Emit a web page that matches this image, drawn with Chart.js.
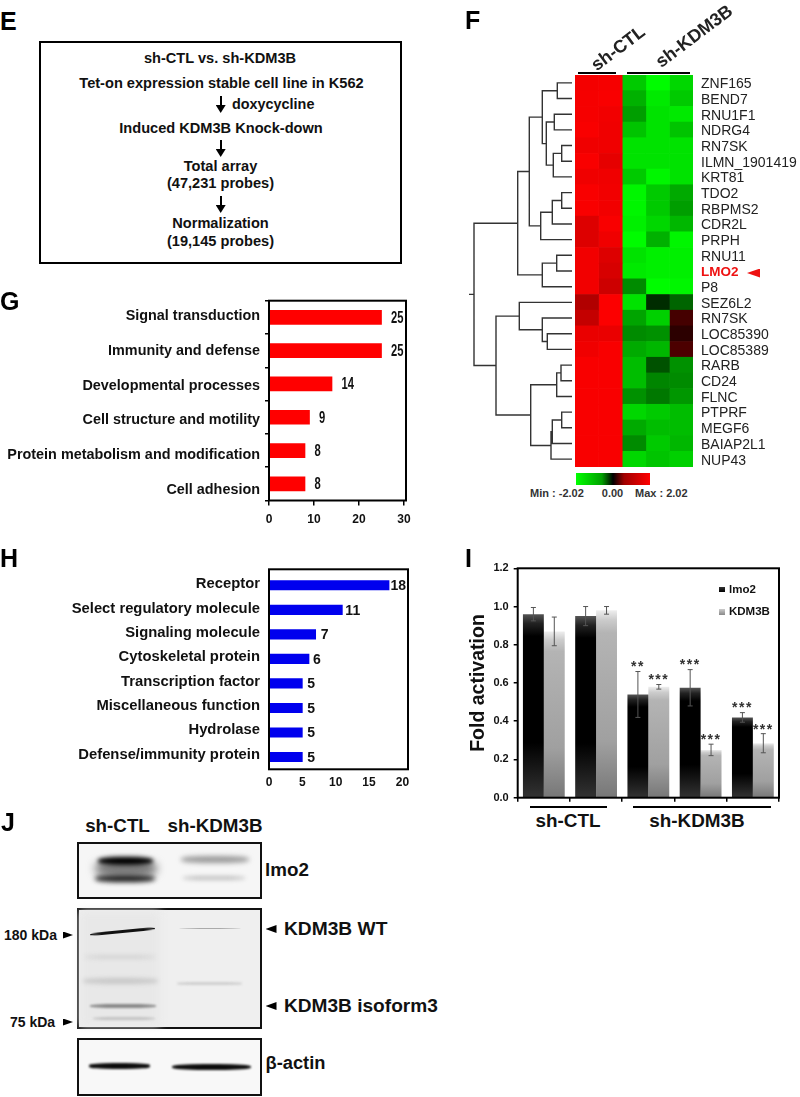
<!DOCTYPE html>
<html>
<head>
<meta charset="utf-8">
<script src="https://cdn.jsdelivr.net/npm/chart.js@4"></script>
<style>
html, body { margin:0; padding:0; background:#fff; }
#page { position:relative; width:800px; height:1097px; overflow:hidden; font-family:"Liberation Sans",Arial,sans-serif; color:#111; }
#page canvas { position:absolute; }
.t { position:absolute; white-space:nowrap; line-height:1; }
.a { position:absolute; }
</style>
</head>
<body>
<div id="page"></div>
<script>
// panel G
var gLabels = ["Signal transduction","Immunity and defense","Developmental processes","Cell structure and motility","Protein metabolism and modification","Cell adhesion"];
var gValues = [25,25,14,9,8,8];
var gTicks = [0,10,20,30];

// panel H
var hLabels = ["Receptor","Select regulatory molecule","Signaling molecule","Cytoskeletal protein","Transcription factor","Miscellaneous function","Hydrolase","Defense/immunity protein"];
var hValues = [18,11,7,6,5,5,5,5];
var hTicks = [0,5,10,15,20];

// panel I
var iGroups = ["sh-CTL 1","sh-CTL 2","sh-KDM3B 1","sh-KDM3B 2","sh-KDM3B 3"];
var iLmo2 = [0.96,0.95,0.54,0.575,0.42];
var iKdm3b = [0.87,0.98,0.58,0.25,0.285];
var iLmo2Err = [0.035,0.05,0.12,0.095,0.025];
var iKdm3bErr = [0.075,0.02,0.012,0.03,0.05];
var iLmo2Sig = ["","","**","***","***"];
var iKdm3bSig = ["","","***","***","***"];
var iTicks = [0,0.2,0.4,0.6,0.8,1.0,1.2];

// panel F
var genes = ["ZNF165","BEND7","RNU1F1","NDRG4","RN7SK","ILMN_1901419","KRT81","TDO2","RBPMS2","CDR2L","PRPH","RNU11","LMO2","P8","SEZ6L2","RN7SK","LOC85390","LOC85389","RARB","CD24","FLNC","PTPRF","MEGF6","BAIAP2L1","NUP43"];
var heatRows = [
  [1.93,1.95,-1.6,-2.0,-1.7],
  [1.95,1.97,-1.4,-1.85,-1.6],
  [1.95,1.92,-1.25,-1.8,-1.85],
  [1.97,1.9,-1.55,-1.8,-1.55],
  [1.9,1.9,-1.8,-1.8,-1.8],
  [1.97,1.82,-1.8,-1.8,-1.8],
  [1.9,1.9,-1.6,-1.95,-1.8],
  [1.97,1.92,-1.95,-1.6,-1.35],
  [1.97,1.92,-1.95,-1.6,-1.25],
  [1.75,1.97,-1.9,-1.7,-1.45],
  [1.75,1.9,-2.0,-1.4,-1.95],
  [1.92,1.75,-1.8,-1.9,-1.9],
  [1.92,1.7,-1.85,-1.9,-1.9],
  [1.92,1.62,-1.1,-2.0,-1.95],
  [1.4,2.0,-1.8,-0.35,-0.8],
  [1.55,2.0,-1.3,-1.65,0.55],
  [1.85,1.85,-1.1,-1.15,0.35],
  [1.9,1.97,-1.35,-1.45,0.6],
  [1.97,1.97,-1.5,-0.65,-1.15],
  [1.97,1.97,-1.5,-1.05,-1.1],
  [1.97,1.97,-1.15,-0.95,-1.2],
  [1.97,1.97,-1.7,-1.6,-1.5],
  [1.97,1.97,-1.35,-1.5,-1.5],
  [1.97,1.97,-1.1,-1.6,-1.45],
  [1.97,1.97,-1.7,-1.55,-1.65]
];
// dendrogram joins: [left, right, height], a number is a gene row, "n3" is join 3
var dendro = [
  [0,1,14.7],[2,3,17.7],[4,5,10.3],["n2",6,18.7],["n1","n3",25.7],["n0","n4",29.7],
  [7,8,10.3],["n6",9,19.7],["n7",10,31.3],["n5","n8",42.7],
  [11,12,15.3],["n10",13,29.7],["n9","n11",54.3],
  [16,17,24.7],[15,"n13",29.7],[14,"n14",52.7],
  [18,19,11],["n16",20,15.3],[21,22,10.3],["n18",23,19.7],["n19",24,21],["n17","n20",41.3],
  ["n15","n21",76],["n12","n22",98]
];

var FONT = '"Liberation Sans",Arial,sans-serif';
var NARROW = '"Liberation Sans Narrow","Liberation Sans",Arial,sans-serif';
Chart.defaults.font.family = FONT;
Chart.defaults.animation = false;
Chart.defaults.responsive = false;
Chart.defaults.plugins.legend.display = false;
Chart.defaults.plugins.tooltip.enabled = false;

var page = document.getElementById("page");

function canvasAt(left, top, w, h) {
  var c = document.createElement("canvas");
  c.width = w; c.height = h;
  c.style.left = left + "px"; c.style.top = top + "px";
  page.appendChild(c);
  return c.getContext("2d");
}

function put(text, x, y, size, opt) {
  opt = opt || {};
  var d = document.createElement("div");
  d.className = "t";
  d.textContent = text;
  d.style.left = x + "px"; d.style.top = y + "px";
  d.style.fontSize = size + "px";
  d.style.fontWeight = opt.weight || "bold";
  if (opt.color) d.style.color = opt.color;
  var ax = opt.align == "left" ? "0" : opt.align == "right" ? "-100%" : "-50%";
  d.style.transform = "translate(" + ax + ",-50%)" + (opt.rot ? " rotate(" + opt.rot + "deg)" : "");
  page.appendChild(d);
}

function box(x, y, w, h, css) {
  var d = document.createElement("div");
  d.className = "a";
  d.style.left = x + "px"; d.style.top = y + "px";
  d.style.width = w + "px"; d.style.height = h + "px";
  d.style.cssText += css || "background:#000";
  page.appendChild(d);
  return d;
}

function tri(x, y, w, h, dir, color) {
  var poly = dir == "left" ? "100% 0,0 50%,100% 100%" : dir == "right" ? "0 0,100% 50%,0 100%" : "0 0,100% 0,50% 100%";
  box(x, y, w, h, "background:" + (color || "#000") + ";clip-path:polygon(" + poly + ")");
}

function arrowDown(x, y1, y2) {
  box(x - 1, y1, 2, y2 - y1 - 6);
  tri(x - 5, y2 - 8, 10, 8, "down");
}

// labels must not push the plot area about
function fixSize(s, w, h) {
  if (w !== null) s.width = w;
  if (h !== null) s.height = h;
  s.paddingTop = s.paddingBottom = s.paddingLeft = s.paddingRight = 0;
}

// frame round the plot area
var framePlugin = {
  id: "frame",
  afterDraw: function (chart, args, o) {
    var a = chart.chartArea, c = chart.ctx, t = o.inset || 0;
    c.save();
    c.strokeStyle = "#000";
    c.lineWidth = o.width || 2;
    c.strokeRect(a.left, a.top - t, a.right - a.left, a.bottom - a.top + t);
    c.restore();
  }
};

var valuePlugin = {
  id: "values",
  afterDatasetsDraw: function (chart, args, o) {
    var c = chart.ctx;
    chart.getDatasetMeta(0).data.forEach(function (el, i) {
      c.save();
      c.translate(el.x + o.dx[Math.min(i, o.dx.length - 1)], el.y + o.dy);
      c.scale(o.sx || 1, 1);
      c.font = o.font;
      c.fillStyle = "#111";
      c.textBaseline = "middle";
      c.fillText(chart.data.datasets[0].data[i], 0, 0);
      c.restore();
    });
  }
};

// horizontal bars, the category names sit on their own axis because they
// are spaced a little differently from the bars in the original
function hbar(g) {
  var a = g.area, ctx = canvasAt(g.canvas[0], g.canvas[1], g.canvas[2], g.canvas[3]);
  new Chart(ctx, {
    type: "bar",
    data: { labels: g.labels, datasets: [{ data: g.values, backgroundColor: g.color, barThickness: g.bar }] },
    plugins: [framePlugin, valuePlugin],
    options: {
      indexAxis: "y",
      layout: { padding: { top: a[1] - g.canvas[1], right: g.canvas[0] + g.canvas[2] - a[2], bottom: 0, left: 0 } },
      plugins: { frame: { inset: g.inset || 0 }, values: g.valueOpts },
      scales: {
        x: {
          min: 0, max: g.max,
          afterFit: function (s) { fixSize(s, null, g.canvas[1] + g.canvas[3] - a[3]); },
          afterBuildTicks: function (s) { s.ticks = g.ticks.map(function (v) { return { value: v }; }); },
          border: { display: false },
          grid: { drawOnChartArea: false, tickLength: g.xTick, color: "#000", lineWidth: 1.5 },
          ticks: { font: g.xFont, color: "#111", padding: g.xPad, maxRotation: 0, autoSkip: false }
        },
        y: {
          weight: 0,
          afterFit: function (s) { fixSize(s, 4, null); },
          border: { display: false },
          grid: { drawOnChartArea: false, tickLength: g.yTick, color: "#000", lineWidth: 1.5 },
          ticks: { callback: function () { return ""; }, padding: 0 }
        },
        names: {
          type: "linear", position: "left", reverse: true, weight: 1, display: true, offset: false,
          min: g.nameRange[0], max: g.nameRange[1],
          afterFit: function (s) { fixSize(s, a[0] - g.canvas[0] - 4, null); },
          afterBuildTicks: function (s) { s.ticks = g.labels.map(function (l, i) { return { value: i }; }); },
          border: { display: false },
          grid: { display: false, drawTicks: false },
          ticks: {
            autoSkip: false, padding: 5, color: "#111", font: g.nameFont,
            callback: function (v) { return g.labels[v]; }
          }
        }
      }
    }
  });
}

hbar({
  canvas: [0, 295, 415, 235], area: [269, 300.7, 406, 500.5],
  labels: gLabels, values: gValues, color: "#ff0000", bar: 14, max: 30.44, ticks: gTicks,
  nameRange: [-0.44, 5.30], nameFont: { size: 14.4, weight: "bold" },
  xFont: { size: 12, weight: "bold", family: NARROW }, xTick: 5, xPad: 7, yTick: 4,
  valueOpts: { dx: [9.5], dy: 1, sx: 0.7, font: "bold 16px " + FONT }
});

hbar({
  canvas: [0, 560, 415, 235], area: [269, 573, 408, 769.3], inset: 3.7,
  labels: hLabels, values: hValues, color: "#0000ee", bar: 9.5, max: 20.84, ticks: hTicks,
  nameRange: [-0.465, 7.61], nameFont: { size: 14.8, weight: "bold" },
  xFont: { size: 12, weight: "bold" }, xTick: 0, xPad: 6, yTick: 0,
  valueOpts: { dx: [1.5, 3, 5, 4, 5], dy: 1, font: "bold 14px " + FONT }
});

// panel I
function barFill(stops) {
  return function (c) {
    var chart = c.chart;
    if (!chart.chartArea || c.parsed === undefined) return stops[0][1];
    var y = chart.scales.y;
    var g = chart.ctx.createLinearGradient(0, y.getPixelForValue(c.raw), 0, y.getPixelForValue(0));
    stops.forEach(function (s) { g.addColorStop(s[0], s[1]); });
    return g;
  };
}

var errorPlugin = {
  id: "errs",
  afterDatasetsDraw: function (chart) {
    var c = chart.ctx, y = chart.scales.y;
    [[iLmo2, iLmo2Err, iLmo2Sig], [iKdm3b, iKdm3bErr, iKdm3bSig]].forEach(function (s, k) {
      chart.getDatasetMeta(k).data.forEach(function (el, i) {
        var top = y.getPixelForValue(s[0][i] + s[1][i]), bot = y.getPixelForValue(s[0][i] - s[1][i]);
        c.save();
        c.strokeStyle = "#555";
        c.lineWidth = 1;
        c.beginPath();
        c.moveTo(el.x, top); c.lineTo(el.x, bot);
        c.moveTo(el.x - 2.5, top); c.lineTo(el.x + 2.5, top);
        c.moveTo(el.x - 2.5, bot); c.lineTo(el.x + 2.5, bot);
        c.stroke();
        if (s[2][i]) {
          c.fillStyle = "#333";
          c.font = "bold 14px " + FONT;
          c.letterSpacing = "1.5px";
          c.textAlign = "center";
          c.textBaseline = "middle";
          c.fillText(s[2][i], el.x, top - 4);
        }
        c.restore();
      });
    });
  }
};

new Chart(canvasAt(450, 555, 345, 250), {
  type: "bar",
  data: {
    labels: iGroups,
    datasets: [
      { label: "lmo2", data: iLmo2, barPercentage: 1, categoryPercentage: 0.8,
        backgroundColor: barFill([[0, "#555"], [0.05, "#222"], [0.12, "#000"], [0.7, "#000"], [1, "#333"]]) },
      { label: "KDM3B", data: iKdm3b, barPercentage: 1, categoryPercentage: 0.8,
        backgroundColor: barFill([[0, "#eee"], [0.05, "#ccc"], [0.12, "#b4b4b4"], [0.7, "#a0a0a0"], [1, "#777"]]) }
    ]
  },
  plugins: [framePlugin, errorPlugin],
  options: {
    layout: { padding: { top: 13.3, right: 16, left: 0, bottom: 0 } },
    plugins: { frame: { width: 2 } },
    scales: {
      x: {
        afterFit: function (s) { fixSize(s, null, 7.3); },
        border: { display: false },
        grid: { drawOnChartArea: false, tickLength: 4, color: "#000", lineWidth: 1.5 },
        ticks: { callback: function () { return ""; }, padding: 0 }
      },
      y: {
        min: 0, max: 1.2,
        afterFit: function (s) { fixSize(s, 67.7, null); },
        afterBuildTicks: function (s) { s.ticks = iTicks.map(function (v) { return { value: v }; }); },
        border: { display: false },
        grid: { drawOnChartArea: false, tickLength: 4, color: "#000", lineWidth: 1.5 },
        ticks: { font: { size: 11, weight: "bold" }, color: "#111", padding: 5, callback: function (v) { return v.toFixed(1); } },
        title: { display: true, text: "Fold activation", font: { size: 19.5, weight: "bold" }, color: "#111", padding: { top: 17, bottom: 0 } }
      }
    }
  }
});

// panel F heat map, one stacked bar per gene with cells one unit wide
function heatColor(v) {
  var k = Math.min(1, Math.abs(v) / 2.02), m = Math.round(255 * k);
  return v >= 0 ? "rgb(" + m + ",0,0)" : "rgb(0," + m + ",0)";
}
var unitCells = genes.map(function () { return 1; });
new Chart(canvasAt(575, 70, 225, 402), {
  type: "bar",
  data: {
    labels: genes,
    datasets: heatRows[0].map(function (x, col) {
      return {
        data: unitCells, barPercentage: 1, categoryPercentage: 1,
        backgroundColor: function (c) { return heatColor(heatRows[c.dataIndex][col]); }
      };
    })
  },
  options: {
    indexAxis: "y",
    layout: { padding: { top: 5, bottom: 5 } },
    scales: {
      x: { display: false, stacked: true, min: 0, max: 5 },
      y: {
        position: "right", stacked: true,
        afterFit: function (s) { fixSize(s, 107, null); },
        border: { display: false },
        grid: { display: false, drawTicks: false },
        ticks: {
          autoSkip: false, padding: 8, labelOffset: 1.5,
          color: function (c) { return genes[c.index] == "LMO2" ? "#ee1111" : "#222"; },
          font: function (c) { return { size: genes[c.index] == "LMO2" ? 13.5 : 14, weight: genes[c.index] == "LMO2" ? "bold" : "normal" }; }
        }
      }
    }
  }
});

// dendrogram on the left of the heat map
function dendroPoints() {
  var pts = [], ys = [];
  function pos(n) {
    if (typeof n == "number") return { y: n, h: 0 };
    var i = +n.slice(1);
    return { y: ys[i], h: dendro[i][2] };
  }
  dendro.forEach(function (d) {
    var a = pos(d[0]), b = pos(d[1]);
    ys.push((a.y + b.y) / 2);
    pts.push({ x: a.h, y: a.y }, { x: d[2], y: a.y }, { x: d[2], y: b.y }, { x: b.h, y: b.y }, { x: null, y: null });
  });
  var root = dendro[dendro.length - 1][2];
  pts.push({ x: root, y: ys[ys.length - 1] }, { x: root + 5, y: ys[ys.length - 1] });
  return pts;
}
new Chart(canvasAt(465, 75, 107, 392), {
  type: "scatter",
  data: { datasets: [{ data: dendroPoints(), showLine: true, pointRadius: 0, borderColor: "#333", borderWidth: 1.4, spanGaps: false }] },
  options: {
    layout: { padding: 0 },
    scales: {
      x: { display: false, reverse: true, min: 0, max: 107 },
      y: { display: false, reverse: true, min: -0.5, max: 24.5 }
    }
  }
});

box(577.7, 72, 38.3, 2.4);
box(626.7, 72, 63.3, 2.4);
put("sh-CTL", 617.5, 48, 18, { rot: -37, color: "#222" });
put("sh-KDM3B", 694, 36, 18, { rot: -37, color: "#222" });
tri(747, 268.5, 13, 9, "left", "#ee1111");
box(576, 473, 74, 11.5, "background:linear-gradient(to right,#00ff00,#00a000 35%,#000 50%,#a00000 65%,#ff0000)");
put("Min : -2.02", 530, 493, 11, { align: "left", color: "#333" });
put("0.00", 612.5, 493, 11, { color: "#333" });
put("Max : 2.02", 635, 493, 11, { align: "left", color: "#333" });

// panel E flow
box(39.3, 41, 358.4, 219.3, "border:2px solid #000");
var flow = [
  ["sh-CTL vs. sh-KDM3B", 220, 57.7, 14.6], ["Tet-on expression stable cell line in K562", 221.5, 82.7, 14.6],
  ["Induced KDM3B Knock-down", 221, 127.7, 14.6], ["Total array", 220.5, 165.7, 14.6], ["(47,231 probes)", 220.5, 183.3, 14.6],
  ["Normalization", 220.5, 222.7, 14.6], ["(19,145 probes)", 220.5, 240.7, 14.6]
];
flow.forEach(function (f) { put(f[0], f[1], f[2], f[3]); });
put("doxycycline", 232, 104, 14.4, { align: "left" });
arrowDown(220.7, 96, 113);
arrowDown(220.7, 140, 157);
arrowDown(220.7, 196, 213);

// panel letters
[["E", 0, 21], ["F", 465, 20], ["G", 0, 301], ["H", 0, 558], ["I", 465, 558], ["J", 1, 822]].forEach(function (p) {
  put(p[0], p[1], p[2], 25, { align: "left", color: "#000" });
});

// panel I labels outside the plot
box(530, 805.6, 77, 2);
box(633, 805.6, 138, 2);
put("sh-CTL", 568, 821, 18.9);
put("sh-KDM3B", 697, 821, 18.9);
box(719.3, 586.5, 5.8, 5.8, "background:linear-gradient(#333,#000)");
box(719.3, 608.8, 5.8, 5.8, "background:linear-gradient(#ccc,#888)");
put("lmo2", 729, 589.5, 11.5, { align: "left" });
put("KDM3B", 729, 611.7, 11.5, { align: "left" });

// panel J western blot, drawn as soft bands
function band(x, y, w, h, color, blur, rot) {
  box(x, y - h / 2, w, h, "background:" + color + ";filter:blur(" + blur + "px);border-radius:40%;" + (rot ? "transform:rotate(" + rot + "deg);" : ""));
}
function blotPanel(y1, y2, bg) {
  box(77.3, y1, 180.4, y2 - y1 - 4, "border:2px solid #111;background:" + bg + ";overflow:hidden");
}
blotPanel(842.3, 899, "#f6f6f6");
band(95, 868, 62, 17, "#777", 4);
band(98, 861, 55, 8, "#000", 2);
band(95, 878.5, 60, 7, "#222", 2.5);
band(181, 859.5, 68, 7, "#999", 2.5);
band(183, 877.5, 62, 4, "#c0c0c0", 2);

blotPanel(908.3, 1028.7, "#efefef");
box(80.3, 911.3, 80, 115, "background:#e8e8e8;filter:blur(4px)");
band(90, 931, 65, 2.6, "#111", 0.6, -5.5);
band(179, 928.5, 62, 1.5, "#aaa", 0.6);
band(85, 957, 70, 4, "#d4d4d4", 2);
band(83, 980.5, 75, 6, "#c8c8c8", 2);
band(90, 1006, 66, 3.6, "#8a8a8a", 1);
band(93, 1018, 62, 3, "#c4c4c4", 1);
band(177, 983.5, 65, 2.5, "#cfcfcf", 1);

blotPanel(1038, 1096, "#f8f8f8");
band(89, 1066, 61, 5.5, "#0c0c0c", 0.9);
band(171.5, 1067, 79, 6, "#0c0c0c", 0.9);

put("sh-CTL", 117.5, 826, 18.8);
put("sh-KDM3B", 215, 826, 18.8);
put("lmo2", 265, 870, 18.8, { align: "left" });
tri(265.5, 925, 11, 8, "left");
put("KDM3B WT", 284, 929, 19.2, { align: "left" });
tri(265.5, 1002, 11, 8, "left");
put("KDM3B isoform3", 284, 1005.7, 19.1, { align: "left" });
put("β-actin", 265.5, 1063, 18.3, { align: "left" });
put("180 kDa", 4, 935, 14, { align: "left" });
tri(63, 931.5, 10, 7, "right");
put("75 kDa", 10, 1022, 14, { align: "left" });
tri(63, 1018.5, 10, 7, "right");
</script>
</body>
</html>
